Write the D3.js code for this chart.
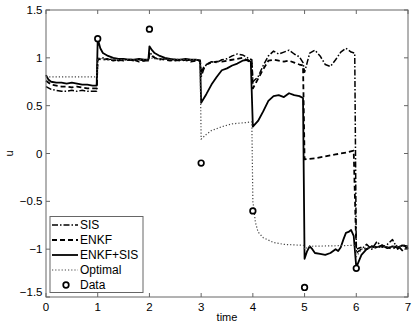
<!DOCTYPE html>
<html>
<head>
<meta charset="utf-8">
<script src="https://cdn.jsdelivr.net/npm/d3@7.9.0/dist/d3.min.js"></script>
<style>
  html, body { margin: 0; padding: 0; background: #fff; }
  svg { display: block; font-family: "Liberation Sans", Arial, Helvetica, sans-serif; }
</style>
</head>
<body>
<svg id="chart" width="415" height="328"></svg>
<script>
// values: [time, u]
const sis = [
  [0,0.70],[0.1,0.67],[0.2,0.66],[0.3,0.65],[0.4,0.65],[0.5,0.66],[0.6,0.65],[0.7,0.66],[0.8,0.65],[0.9,0.65],[0.98,0.65],
  [1.0,0.98],[1.1,1.0],[1.2,0.98],[1.3,0.99],[1.4,0.97],[1.5,0.98],[1.6,0.98],[1.7,0.97],[1.8,0.98],[1.9,0.97],[1.98,0.97],
  [2.0,1.06],[2.1,1.0],[2.2,0.98],[2.3,0.99],[2.4,0.98],[2.5,0.97],[2.6,0.98],[2.7,0.97],[2.8,0.98],[2.9,0.98],[2.98,0.97],
  [3.0,0.80],[3.05,0.88],[3.1,0.93],[3.2,0.96],[3.3,0.95],[3.4,0.98],[3.5,0.99],[3.6,1.02],[3.7,1.04],[3.8,1.03],[3.9,1.0],[3.98,0.98],
  [4.0,0.75],[4.1,0.80],[4.2,0.92],[4.3,1.02],[4.4,1.07],[4.5,1.04],[4.6,1.06],[4.7,1.08],[4.8,1.04],[4.9,1.01],[4.97,0.95],
  [5.0,0.85],[5.05,0.95],[5.1,1.05],[5.2,1.08],[5.3,1.02],[5.4,0.93],[5.5,0.91],[5.6,0.98],[5.7,1.06],[5.8,1.10],[5.9,1.06],[5.97,1.05],
  [6.0,-1.04],[6.1,-1.0],[6.2,-0.95],[6.3,-1.0],[6.4,-0.92],[6.5,-0.98],[6.6,-0.95],[6.7,-0.90],[6.8,-1.0],[6.9,-0.95],[7.0,-1.0]
];
const enkf = [
  [0,0.76],[0.1,0.72],[0.2,0.71],[0.3,0.70],[0.4,0.70],[0.5,0.69],[0.6,0.70],[0.7,0.69],[0.8,0.68],[0.9,0.68],[0.98,0.68],
  [1.0,0.99],[1.1,0.98],[1.2,0.99],[1.3,0.97],[1.4,0.98],[1.5,0.97],[1.6,0.98],[1.7,0.98],[1.8,0.96],[1.9,0.97],[1.98,0.97],
  [2.0,1.04],[2.1,1.0],[2.2,0.99],[2.3,0.98],[2.4,0.97],[2.5,0.98],[2.6,0.97],[2.7,0.98],[2.8,0.96],[2.9,0.97],[2.98,0.97],
  [3.0,0.84],[3.05,0.90],[3.1,0.93],[3.2,0.95],[3.3,0.96],[3.4,0.96],[3.5,0.97],[3.6,0.98],[3.7,0.99],[3.8,1.0],[3.9,0.97],[3.98,0.95],
  [4.0,0.68],[4.1,0.78],[4.2,0.88],[4.3,0.97],[4.4,0.98],[4.5,0.97],[4.6,0.96],[4.7,0.97],[4.8,0.95],[4.9,0.93],[4.97,0.92],
  [5.0,-0.06],[5.2,-0.05],[5.4,-0.03],[5.6,-0.01],[5.8,0.01],[5.95,0.03],
  [6.0,-1.0],[6.1,-0.98],[6.2,-1.0],[6.3,-0.97],[6.4,-0.99],[6.5,-0.96],[6.6,-0.98],[6.7,-1.0],[6.8,-0.96],[6.9,-1.02],[7.0,-0.98]
];
const enkfSis = [
  [0,0.82],[0.05,0.77],[0.1,0.75],[0.2,0.74],[0.3,0.74],[0.4,0.73],[0.5,0.74],[0.6,0.73],[0.7,0.72],[0.8,0.72],[0.9,0.71],[0.98,0.71],
  [1.0,1.2],[1.05,1.1],[1.1,1.05],[1.2,1.02],[1.3,1.0],[1.4,0.99],[1.5,0.99],[1.6,0.98],[1.7,0.98],[1.8,0.99],[1.9,0.98],[1.98,0.98],
  [2.0,1.12],[2.05,1.08],[2.1,1.05],[2.2,1.02],[2.3,1.0],[2.4,0.99],[2.5,0.98],[2.6,0.98],[2.7,0.99],[2.8,0.98],[2.9,0.98],[2.98,0.97],
  [3.0,0.53],[3.1,0.62],[3.2,0.72],[3.3,0.80],[3.4,0.87],[3.5,0.89],[3.6,0.92],[3.7,0.94],[3.8,0.97],[3.9,0.98],[3.96,0.96],
  [4.0,0.28],[4.1,0.34],[4.2,0.44],[4.3,0.55],[4.4,0.60],[4.5,0.61],[4.6,0.59],[4.7,0.63],[4.8,0.61],[4.9,0.60],[4.97,0.58],
  [5.0,-1.10],[5.05,-1.02],[5.1,-0.97],[5.15,-1.0],[5.2,-1.04],[5.3,-1.05],[5.4,-1.06],[5.5,-1.04],[5.6,-1.0],[5.65,-1.02],[5.7,-0.98],
  [5.75,-0.90],[5.8,-0.83],[5.85,-0.82],[5.9,-0.80],[5.95,-0.86],
  [6.0,-1.19],[6.1,-1.06],[6.2,-1.0],[6.3,-0.97],[6.4,-0.98],[6.5,-0.96],[6.6,-0.99],[6.7,-0.97],[6.8,-0.98],[6.9,-0.96],[7.0,-0.97]
];
const optimal = [
  [0,0.80],[0.98,0.80],[1.0,1.0],[1.1,0.99],[1.5,0.98],[1.98,0.98],[2.0,1.0],[2.1,0.99],[2.98,0.98],
  [3.0,0.15],[3.1,0.20],[3.2,0.24],[3.4,0.28],[3.6,0.31],[3.8,0.32],[3.98,0.33],
  [4.0,-0.50],[4.05,-0.72],[4.1,-0.82],[4.2,-0.88],[4.4,-0.93],[4.6,-0.95],[4.98,-0.96],
  [5.0,-1.0],[5.1,-0.97],[5.98,-0.96],[6.0,-1.08],[6.1,-1.0],[6.3,-0.98],[7.0,-0.97]
];
const dataPts = [[1,1.2],[2,1.3],[3,-0.1],[4,-0.6],[5,-1.4],[6,-1.2]];
const xTicks = [0,1,2,3,4,5,6,7];
const yTicks = [1.5,1,0.5,0,-0.5,-1,-1.5];
const seriesNames = ['SIS','ENKF','ENKF+SIS','Optimal','Data'];

const svg = d3.select('#chart');
const padL = 46, padR = 408, padT = 10, padB = 297;
const x = d3.scaleLinear().domain([0,7]).range([padL,padR]);
const y = d3.scaleLinear().domain([-1.5,1.5]).range([padB,padT]);
const frameColor = '#666';

// lines
const line = d3.line().x(d=>x(d[0])).y(d=>y(d[1]));
const styles = [
  { data: sis,     dash: '6,2,1.5,2', width: 1.5, color: '#000' },
  { data: enkf,    dash: '5,3',       width: 1.8, color: '#000' },
  { data: enkfSis, dash: null,        width: 1.8, color: '#000' },
  { data: optimal, dash: '1.2,2',     width: 1.2, color: '#444' }
];
const plot = svg.append('g');
styles.forEach(s => {
  plot.append('path').datum(s.data)
    .attr('fill','none').attr('stroke',s.color)
    .attr('stroke-width',s.width)
    .attr('stroke-dasharray',s.dash)
    .attr('stroke-linejoin','round')
    .attr('d',line);
});
plot.selectAll('circle.pt').data(dataPts).join('circle')
  .attr('class','pt')
  .attr('cx',d=>x(d[0])).attr('cy',d=>y(d[1])).attr('r',2.8)
  .attr('fill','#fff').attr('stroke','#000').attr('stroke-width',1.7);

// frame + inward ticks on all sides
svg.append('rect').attr('x',padL).attr('y',padT)
  .attr('width',padR-padL).attr('height',padB-padT)
  .attr('fill','none').attr('stroke',frameColor).attr('stroke-width',1);

const tk = 4;
const ax = svg.append('g').attr('stroke',frameColor).attr('stroke-width',1);
xTicks.forEach(t => {
  ax.append('line').attr('x1',x(t)).attr('x2',x(t)).attr('y1',padB).attr('y2',padB-tk);
  ax.append('line').attr('x1',x(t)).attr('x2',x(t)).attr('y1',padT).attr('y2',padT+tk);
});
yTicks.forEach(t => {
  ax.append('line').attr('y1',y(t)).attr('y2',y(t)).attr('x1',padL).attr('x2',padL+tk);
  ax.append('line').attr('y1',y(t)).attr('y2',y(t)).attr('x1',padR).attr('x2',padR-tk);
});

const fmt = v => (v < 0 ? '\u2212' + Math.abs(v) : String(v));
svg.append('g').selectAll('text').data(xTicks).join('text')
  .attr('x',d=>x(d)).attr('y',padB+13.5)
  .attr('text-anchor','middle').attr('font-size',11.5).text(fmt);
svg.append('g').selectAll('text').data(yTicks).join('text')
  .attr('x',padL-3.5).attr('y',d=>y(d) + (d === -1.5 ? -5 : 0)).attr('dy','0.35em')
  .attr('text-anchor','end').attr('font-size',11.5).text(fmt);

svg.append('text').attr('x',(padL+padR)/2).attr('y',321)
  .attr('text-anchor','middle').attr('font-size',11).text('time');
svg.append('text').attr('transform',`translate(13,${y(0)}) rotate(-90)`)
  .attr('text-anchor','middle').attr('font-size',11).text('u');

// legend
const lg = svg.append('g');
lg.append('rect').attr('x',50).attr('y',216.5).attr('width',93).attr('height',76)
  .attr('fill','#fff').attr('stroke',frameColor).attr('stroke-width',1);
seriesNames.forEach((name,i) => {
  const yy = 225 + i*15;
  if (i < 4) {
    const s = styles[i];
    lg.append('line').attr('x1',52).attr('x2',78).attr('y1',yy).attr('y2',yy)
      .attr('stroke',s.color).attr('stroke-width',s.width).attr('stroke-dasharray',s.dash);
  } else {
    lg.append('circle').attr('cx',66).attr('cy',yy).attr('r',2.8)
      .attr('fill','#fff').attr('stroke','#000').attr('stroke-width',1.7);
  }
  lg.append('text').attr('x',80).attr('y',yy).attr('dy','0.35em')
    .attr('font-size',12).text(name);
});
</script>
</body>
</html>
